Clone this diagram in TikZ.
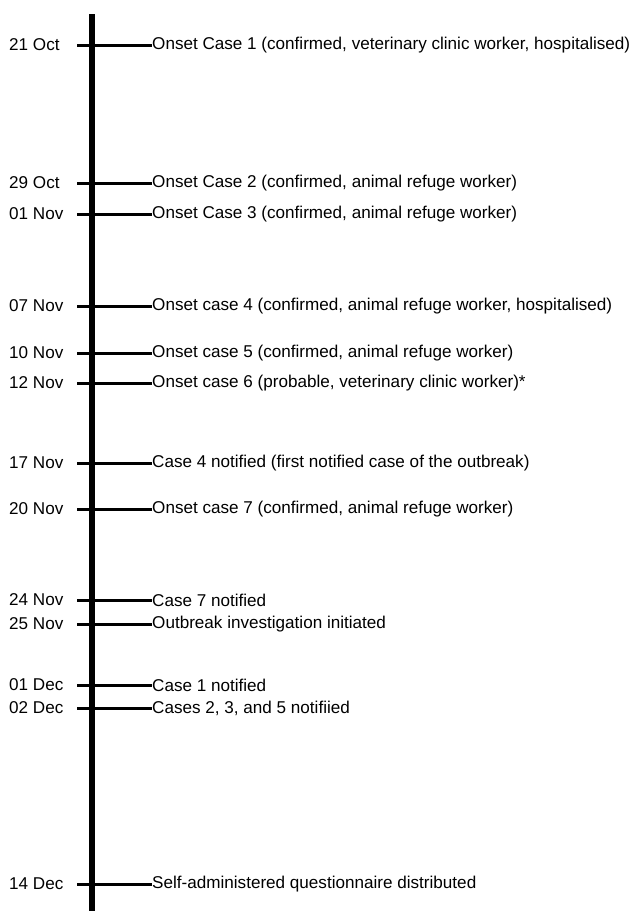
\documentclass[tikz,border=0pt]{standalone}
\usepackage{fontspec}
\setmainfont{Liberation Sans}
\usetikzlibrary{positioning}
\tikzset{
    datelabel/.style={anchor=west, inner sep=0pt, font=\fontsize{17.1}{19}\selectfont},
    eventlabel/.style={anchor=west, inner sep=0pt, font=\fontsize{17.1}{19}\selectfont},
    tick/.style={line width=3pt}
}

\begin{document}
\begin{tikzpicture}[x=1pt,y=-1pt]
    \useasboundingbox (0,0) rectangle (634,911);
    \draw[line width=6pt] (92,14) -- (92,911);

    \foreach \y/\d/\t in {
        45/{21 Oct}/{Onset Case 1 (confirmed, veterinary clinic worker, hospitalised)},
        183/{29 Oct}/{Onset Case 2 (confirmed, animal refuge worker)},
        214/{01 Nov}/{Onset Case 3 (confirmed, animal refuge worker)},
        306/{07 Nov}/{Onset case 4 (confirmed, animal refuge worker, hospitalised)},
        353/{10 Nov}/{Onset case 5 (confirmed, animal refuge worker)},
        383/{12 Nov}/{Onset case 6 (probable, veterinary clinic worker)*},
        463/{17 Nov}/{Case 4 notified (first notified case of the outbreak)},
        509/{20 Nov}/{Onset case 7 (confirmed, animal refuge worker)},
        600/{24 Nov}/{Case 7 notified},
        624/{25 Nov}/{Outbreak investigation initiated},
        685/{01 Dec}/{Case 1 notified},
        708/{02 Dec}/{Cases 2, 3, and 5 notifiied},
        884/{14 Dec}/{Self-administered questionnaire distributed}}
    {
        \node[datelabel] (date\y) at (9,\y) {\d};
        \coordinate (tick\y) at (77,\y);
        \node[eventlabel] (event\y) at (152,\y) {\t};
        \draw[tick] (tick\y) -- (event\y.west);
    }

\end{tikzpicture}
\end{document}
